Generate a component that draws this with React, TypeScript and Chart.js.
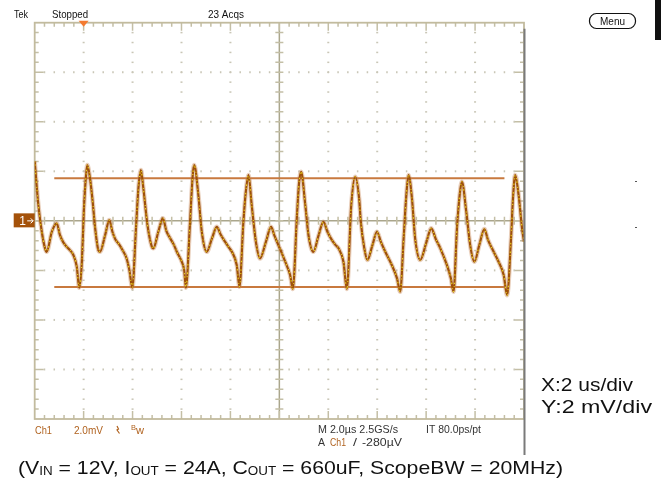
import React, { useEffect, useRef } from 'react';
import { Chart, registerables } from 'chart.js';

Chart.register(...registerables);

// ---- data (time in µs, Ch1 in mV) ----
const TIME_US = [
  0, 0.15, 0.29, 0.42, 0.49, 0.70, 0.90, 1.03, 1.17, 1.31, 1.44, 1.58, 1.72, 1.82, 1.92, 2.02, 2.10, 2.15,
  2.26, 2.37, 2.47, 2.60, 2.67, 2.88, 3.05, 3.18, 3.30, 3.45, 3.60, 3.75, 3.87, 3.99, 4.14, 4.24, 4.34,
  4.44, 4.61, 4.79, 4.85, 5.05, 5.24, 5.38, 5.53, 5.68, 5.81, 6.01, 6.11, 6.18, 6.35, 6.46, 6.52,
  6.69, 6.83, 7.03, 7.25, 7.44, 7.60, 7.78, 7.92, 8.06, 8.26, 8.37, 8.53, 8.63, 8.74,
  8.87, 9.04, 9.21, 9.45, 9.66, 9.80, 9.96, 10.10, 10.24, 10.44, 10.55, 10.72, 10.81, 10.89,
  11.06, 11.19, 11.39, 11.60, 11.80, 11.97, 12.15, 12.30, 12.42, 12.62, 12.76, 12.94, 13.10,
  13.26, 13.33, 13.47, 13.60, 13.80, 13.99, 14.15, 14.33, 14.60, 14.81, 14.94, 15.08, 15.19, 15.28,
  15.42, 15.55, 15.76, 16.00, 16.21, 16.40, 16.58, 16.85, 17.01, 17.12, 17.26, 17.37, 17.46,
  17.64, 17.80, 17.97, 18.18, 18.38, 18.52, 18.69, 18.96, 19.17, 19.31, 19.47, 19.55, 19.64,
  19.78, 19.92, 20.0,
];
const CH1_MV = [
  2.40, 0.64, -0.44, -1.10, -1.25, -0.44, -0.10, -0.57, -0.87, -1.05, -1.18, -1.38, -1.85, -2.70, -1.79, 0.64, 1.85, 2.25,
  1.73, 0.77, -0.29, -1.18, -1.25, -0.57, 0.03, -0.45, -0.75, -0.95, -1.20, -1.50, -1.99, -2.70, -0.29, 1.33, 2.05,
  1.33, -0.17, -1.05, -1.11, -0.45, 0.10, -0.40, -0.69, -0.95, -1.25, -1.65, -1.99, -2.70, -0.04, 1.85, 2.25,
  1.04, -0.44, -1.25, -0.70, -0.24, -0.55, -0.84, -1.05, -1.25, -1.79, -2.66, -0.04, 1.18, 1.85,
  0.64, -0.84, -1.52, -0.85, -0.24, -0.60, -0.98, -1.30, -1.65, -2.19, -2.75, 0.23, 1.58, 1.98,
  0.64, -0.57, -1.25, -0.60, -0.04, -0.45, -0.78, -0.98, -1.11, -1.65, -2.75, 0.64, 1.78,
  0.91, -0.04, -1.09, -1.58, -1.00, -0.44, -0.85, -1.25, -1.79, -2.32, -2.86, -0.71, 1.04, 1.85,
  0.91, -0.71, -1.58, -0.90, -0.30, -0.75, -1.11, -1.79, -2.32, -2.86, -0.30, 1.04, 1.58,
  0.37, -0.98, -1.65, -0.95, -0.33, -0.75, -1.11, -1.65, -2.19, -3.00, -0.71, 0.91, 1.85,
  1.04, -0.30, -0.84,
];
const CURSOR_MV = [1.72, -2.67];
const CURSOR_SPAN_US = [0.8, 19.2];
const X_RANGE_US = [0, 20];
const Y_RANGE_MV = [-8, 8];
const X_DIV_US = 2;
const Y_DIV_MV = 2;
const TRIGGER_US = 2;

const HEADER_LABELS = ['Tek', 'Stopped', '23 Acqs'];
const MENU_LABEL = 'Menu';
const STATUS_LEFT = ['Ch1', '2.0mV', 'B', 'w'];
const STATUS_RIGHT = ['M 2.0µs 2.5GS/s', 'IT 80.0ps/pt'];
const STATUS_TRIGGER = ['A', 'Ch1', '/', '-280µV'];
const SCALE_NOTES = ['X:2 us/div', 'Y:2 mV/div'];
const CAPTION_PARTS: [string, boolean][] = [
  ['(V', false], ['IN', true], [' = 12V, I', false], ['OUT', true], [' = 24A, C', false],
  ['OUT', true], [' = 660uF, ScopeBW = 20MHz)', false],
];

const FONT = '"Liberation Sans", Arial, sans-serif';
const ORANGE = '#b0621f';

function fitText(ctx: CanvasRenderingContext2D, text: string, x: number, base: number, size: number, color: string, width?: number) {
  ctx.save();
  ctx.font = `${size}px ${FONT}`;
  ctx.fillStyle = color;
  ctx.textBaseline = 'alphabetic';
  ctx.textAlign = 'left';
  const w = ctx.measureText(text).width;
  const sx = width ? width / w : 1;
  ctx.translate(x, base);
  ctx.scale(sx, 1);
  ctx.fillText(text, 0, 0);
  ctx.restore();
}

const graticule = {
  id: 'graticule',
  beforeDatasetsDraw(chart: any) {
    const { ctx } = chart;
    const xs = chart.scales.x;
    const ys = chart.scales.y;
    const nx = Math.round((X_RANGE_US[1] - X_RANGE_US[0]) / X_DIV_US);
    const ny = Math.round((Y_RANGE_MV[1] - Y_RANGE_MV[0]) / Y_DIV_MV);
    const px = (k: number) => xs.getPixelForValue(X_RANGE_US[0] + (k * X_DIV_US) / 5);
    const py = (k: number) => ys.getPixelForValue(Y_RANGE_MV[1] - (k * Y_DIV_MV) / 5);
    const L = px(0), R = px(nx * 5), T = py(0), B = py(ny * 5);
    const cx = px(nx * 5 / 2), cy = py(ny * 5 / 2);
    ctx.save();
    ctx.fillStyle = '#c9c6b6';
    for (let i = 1; i < nx; i++) {
      if (i * 2 === nx) continue;
      const x = px(i * 5);
      for (let k = 1; k < ny * 5; k++) ctx.fillRect(x - 1, py(k) - 0.75, 2, 1.5);
    }
    for (let j = 1; j < ny; j++) {
      if (j * 2 === ny) continue;
      const y = py(j * 5);
      for (let k = 1; k < nx * 5; k++) ctx.fillRect(px(k) - 0.75, y - 1, 1.5, 2);
    }
    ctx.strokeStyle = '#aaa68c';
    ctx.lineWidth = 1.5;
    ctx.beginPath();
    ctx.moveTo(L, cy); ctx.lineTo(R, cy);
    ctx.moveTo(cx, T); ctx.lineTo(cx, B);
    ctx.stroke();
    ctx.strokeStyle = '#c4bfa6';
    ctx.lineWidth = 1.5;
    ctx.beginPath();
    for (let k = 1; k < nx * 5; k++) { const x = px(k); ctx.moveTo(x, cy - 4); ctx.lineTo(x, cy + 4); }
    for (let k = 1; k < ny * 5; k++) { const y = py(k); ctx.moveTo(cx - 4, y); ctx.lineTo(cx + 4, y); }
    for (let k = 1; k < nx * 5; k++) {
      const x = px(k); const len = k % 5 === 0 ? 8 : 4;
      ctx.moveTo(x, T); ctx.lineTo(x, T + len);
      ctx.moveTo(x, B); ctx.lineTo(x, B - len);
    }
    for (let k = 1; k < ny * 5; k++) {
      const y = py(k); const len = k % 5 === 0 ? 9 : 4;
      ctx.moveTo(L, y); ctx.lineTo(L + len, y);
      ctx.moveTo(R, y); ctx.lineTo(R - len, y);
    }
    ctx.stroke();
    ctx.strokeStyle = '#c2bb9e';
    ctx.lineWidth = 1.8;
    ctx.strokeRect(L, T, R - L, B - T);
    ctx.restore();
  },
  afterDraw(chart: any) {
    const { ctx } = chart;
    const xs = chart.scales.x;
    const ys = chart.scales.y;
    const T = ys.getPixelForValue(Y_RANGE_MV[1]);
    const L = xs.getPixelForValue(X_RANGE_US[0]);
    const R = xs.getPixelForValue(X_RANGE_US[1]);
    const cy = ys.getPixelForValue(0);
    ctx.save();
    const tx = xs.getPixelForValue(TRIGGER_US);
    ctx.fillStyle = '#f47a30';
    ctx.beginPath();
    ctx.moveTo(tx - 5, T - 2); ctx.lineTo(tx + 5, T - 2); ctx.lineTo(tx, T + 4); ctx.closePath();
    ctx.fill();
    ctx.fillStyle = '#a4520a';
    ctx.fillRect(L - 21, cy - 7.5, 21, 14);
    fitText(ctx, '1', L - 15.5, cy + 4.5, 12, '#ffffff');
    ctx.strokeStyle = '#ffffff';
    ctx.lineWidth = 1;
    ctx.beginPath();
    ctx.moveTo(L - 7.5, cy); ctx.lineTo(L - 1.5, cy);
    ctx.moveTo(L - 4, cy - 2.5); ctx.lineTo(L - 1.5, cy); ctx.lineTo(L - 4, cy + 2.5);
    ctx.stroke();
    ctx.strokeStyle = '#7a7a7a';
    ctx.lineWidth = 2;
    ctx.beginPath();
    ctx.moveTo(R + 0.5, T + 6); ctx.lineTo(R + 0.5, 455);
    ctx.stroke();
    ctx.fillStyle = '#111';
    ctx.fillRect(655, 0, 6, 40);
    ctx.fillStyle = '#555';
    ctx.fillRect(635, 181, 2, 1);
    ctx.fillRect(635, 227, 2, 1);
    fitText(ctx, HEADER_LABELS[0], 14, 18, 11, '#111', 14);
    fitText(ctx, HEADER_LABELS[1], 52, 18, 11, '#111', 36);
    fitText(ctx, HEADER_LABELS[2], 208, 18, 11, '#111', 36);
    ctx.strokeStyle = '#111';
    ctx.lineWidth = 1.2;
    ctx.beginPath();
    (ctx as any).roundRect(589.5, 13.5, 46, 15, 7);
    ctx.stroke();
    fitText(ctx, MENU_LABEL, 600, 25, 10.5, '#111', 25);
    fitText(ctx, STATUS_LEFT[0], 35, 433.5, 11, ORANGE, 17);
    fitText(ctx, STATUS_LEFT[1], 74, 433.5, 11, ORANGE, 29);
    ctx.strokeStyle = ORANGE;
    ctx.lineWidth = 1.2;
    ctx.beginPath();
    ctx.moveTo(117, 426); ctx.lineTo(118.5, 429); ctx.lineTo(117, 430); ctx.lineTo(119.5, 433.5);
    ctx.stroke();
    fitText(ctx, STATUS_LEFT[2], 131, 429.5, 8, ORANGE, 5);
    fitText(ctx, STATUS_LEFT[3], 136, 433.5, 10, ORANGE, 8);
    fitText(ctx, STATUS_RIGHT[0], 318, 433, 10.5, '#333', 80);
    fitText(ctx, STATUS_RIGHT[1], 426, 433, 10.5, '#333', 55);
    fitText(ctx, STATUS_TRIGGER[0], 318, 446, 10.5, '#333', 7);
    fitText(ctx, STATUS_TRIGGER[1], 330, 446, 10.5, ORANGE, 16);
    fitText(ctx, STATUS_TRIGGER[2], 353, 446, 10.5, '#333', 4);
    fitText(ctx, STATUS_TRIGGER[3], 362, 446, 10.5, '#333', 40);
    fitText(ctx, SCALE_NOTES[0], 541, 391, 18, '#111', 92);
    fitText(ctx, SCALE_NOTES[1], 541, 413, 18, '#111', 111);
    ctx.save();
    let total = 0;
    const widths = CAPTION_PARTS.map(([t, sub]) => {
      ctx.font = `${sub ? 12 : 19}px ${FONT}`;
      const w = ctx.measureText(t).width;
      total += w;
      return w;
    });
    const sx = 545 / total;
    ctx.translate(18, 474);
    ctx.scale(sx, 1);
    ctx.fillStyle = '#111';
    let cx = 0;
    CAPTION_PARTS.forEach(([t, sub], i) => {
      ctx.font = `${sub ? 12 : 19}px ${FONT}`;
      ctx.fillText(t, cx, sub ? 1 : 0);
      cx += widths[i];
    });
    ctx.restore();
    ctx.restore();
  },
};

export default function App() {
  const ref = useRef<HTMLCanvasElement | null>(null);
  useEffect(() => {
    document.body.style.margin = '0';
    const canvas = ref.current;
    if (!canvas) return;
    const trace = TIME_US.map((t, i) => ({ x: t, y: CH1_MV[i] }));
    const cursorSets = CURSOR_MV.map((v) => ({
      data: CURSOR_SPAN_US.map((t) => ({ x: t, y: v })),
      borderColor: '#c8793e',
      borderWidth: 2,
      pointRadius: 0,
      order: 4,
    }));
    const chart = new Chart(canvas, {
      type: 'line',
      data: {
        datasets: [
          { data: trace, borderColor: 'rgba(200,135,85,0.4)', borderWidth: 4.5, pointRadius: 0, cubicInterpolationMode: 'monotone', order: 3 },
          { data: trace, borderColor: '#9e500a', borderWidth: 2.2, pointRadius: 0, cubicInterpolationMode: 'monotone', order: 2 },
          { data: trace, borderColor: '#ead41e', borderWidth: 1.1, borderDash: [1, 2, 1.5, 4], pointRadius: 0, cubicInterpolationMode: 'monotone', order: 1 },
          ...cursorSets,
        ] as any,
      },
      options: {
        responsive: false,
        animation: false,
        devicePixelRatio: 1,
        layout: { padding: { left: 34.7, top: 22.7, right: 137, bottom: 64 } },
        plugins: { legend: { display: false }, tooltip: { enabled: false }, title: { display: false } },
        scales: {
          x: { type: 'linear', min: X_RANGE_US[0], max: X_RANGE_US[1], display: false },
          y: { type: 'linear', min: Y_RANGE_MV[0], max: Y_RANGE_MV[1], display: false },
        },
        events: [],
      },
      plugins: [graticule],
    });
    return () => chart.destroy();
  }, []);
  return (
    <div style={{ width: 661, height: 483, background: '#fff' }}>
      <canvas ref={ref} width={661} height={483} style={{ display: 'block' }} />
    </div>
  );
}
